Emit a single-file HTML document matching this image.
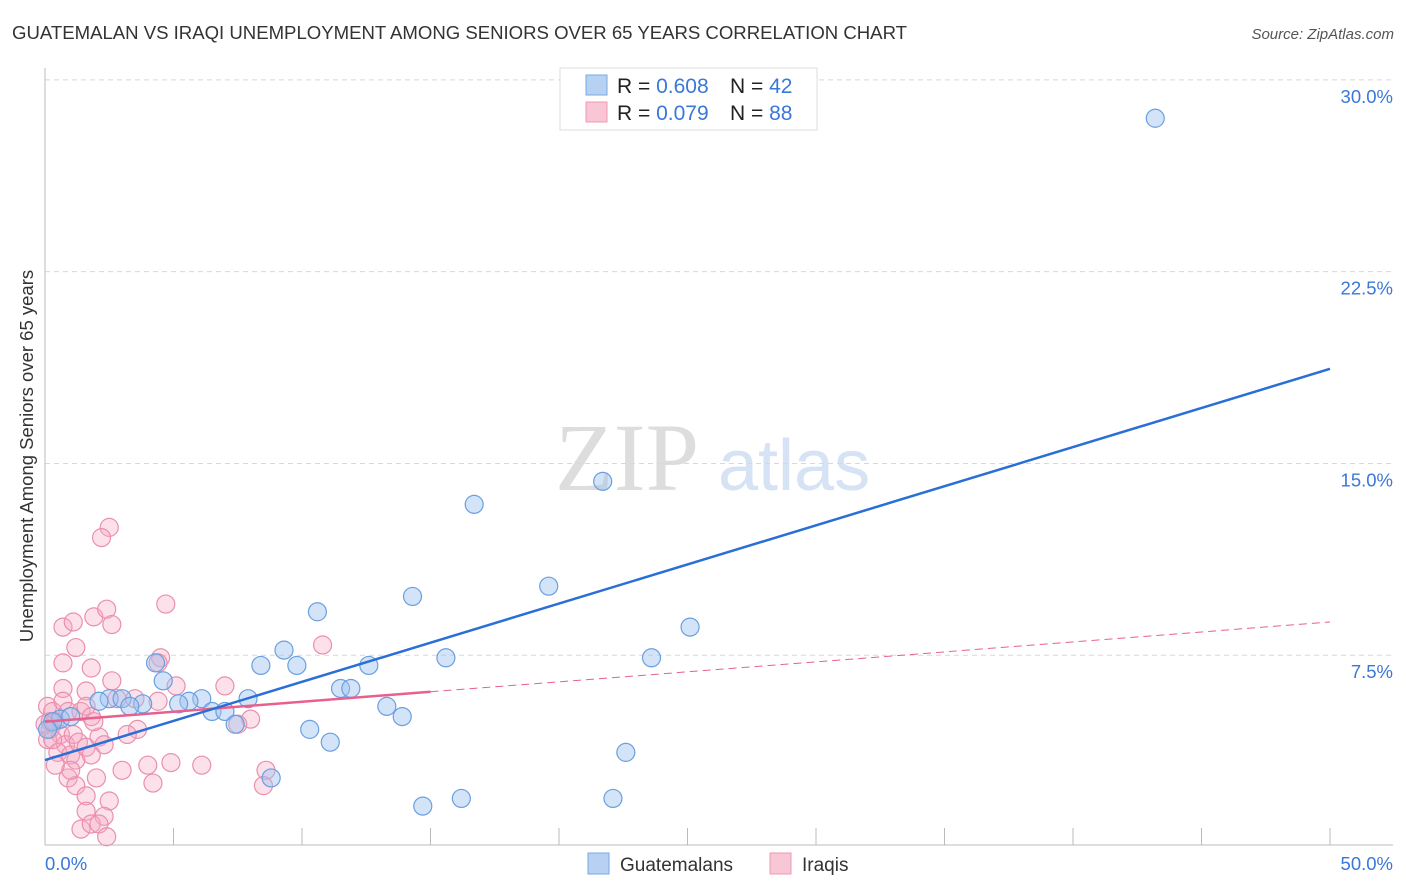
<!DOCTYPE html>
<html><head><meta charset="utf-8"><style>
body{margin:0;background:#fff;font-family:"Liberation Sans",sans-serif}
svg{display:block}
</style></head><body>
<svg id="chart" width="1406" height="892">
<text x="12" y="39" font-size="18.6" fill="#333" textLength="895">GUATEMALAN VS IRAQI UNEMPLOYMENT AMONG SENIORS OVER 65 YEARS CORRELATION CHART</text>
<text x="1394" y="39" font-size="15" fill="#555" font-style="italic" text-anchor="end">Source: ZipAtlas.com</text>
<text transform="translate(33,456) rotate(-90)" font-size="18.5" fill="#333" text-anchor="middle">Unemployment Among Seniors over 65 years</text>
<text x="555" y="490" font-size="96" fill="#ddd" font-family="Liberation Serif,serif">ZIP</text>
<text x="718" y="490" font-size="72" fill="#d5e3f5">atlas</text>
<g id="grid"></g><g id="marks"></g>
<g>
<rect x="560" y="68" width="257" height="62" fill="#fff" stroke="#ddd"/>
<rect x="586" y="75" width="21" height="20" fill="#b7d1f3" stroke="#7aa7e6"/>
<rect x="586" y="102" width="21" height="20" fill="#f8c6d5" stroke="#ee9ab5"/>
<text x="617" y="93" font-size="21" fill="#222">R = <tspan fill="#3a78d8">0.608</tspan></text>
<text x="730" y="93" font-size="21" fill="#222">N = <tspan fill="#3a78d8">42</tspan></text>
<text x="617" y="120" font-size="21" fill="#222">R = <tspan fill="#3a78d8">0.079</tspan></text>
<text x="730" y="120" font-size="21" fill="#222">N = <tspan fill="#3a78d8">88</tspan></text>
</g>
<g>
<rect x="588" y="853" width="21" height="21" fill="#b7d1f3" stroke="#7aa7e6"/>
<text x="620" y="871" font-size="19" fill="#333">Guatemalans</text>
<rect x="770" y="853" width="21" height="21" fill="#f8c6d5" stroke="#ee9ab5"/>
<text x="802" y="871" font-size="19" fill="#333">Iraqis</text>
</g>
</svg>
<script>
const yTicks=[7.5,15,22.5,30];
const yTickLabels=["7.5%","15.0%","22.5%","30.0%"];
const xTickLabels=["0.0%","50.0%"];
const blueX=[43.2,21.7,16.7,19.6,14.3,10.6,25.1,9.3,15.6,23.6,4.3,8.4,9.8,12.6,4.6,11.5,11.9,7.9,6.1,5.6,5.2,2.5,3.0,3.8,3.3,2.1,6.5,7.0,7.4,13.3,13.9,10.3,11.1,22.6,8.8,22.1,16.2,14.7,0.6,1.0,0.3,0.1];
const blueY=[28.5,14.3,13.4,10.2,9.8,9.2,8.6,7.7,7.4,7.4,7.2,7.1,7.1,7.1,6.5,6.2,6.2,5.8,5.8,5.7,5.6,5.8,5.8,5.6,5.5,5.7,5.3,5.3,4.8,5.5,5.1,4.6,4.1,3.7,2.7,1.9,1.9,1.6,5.0,5.1,4.9,4.6];
const pinkX=[2.5,2.2,4.7,0.7,1.1,1.9,2.4,2.6,1.2,4.5,0.7,1.8,7.0,2.6,0.7,1.6,5.1,4.4,10.8,3.5,2.8,4.4,8.0,7.5,2.1,2.3,3.6,3.2,3.0,4.0,4.2,4.9,6.1,8.6,8.5,2.0,0.9,1.2,1.6,2.5,1.6,2.3,1.4,1.8,2.1,2.4,0.1,0.3,0.4,0.2,0.6,0.1,0.8,0.5,1.0,1.2,0.3,0.7,0.9,1.4,1.6,1.8,1.9,1.1,1.3,1.6,1.8,1.0,0.4,0.2,0.0];
const pinkY=[12.5,12.1,9.5,8.6,8.8,9.0,9.3,8.7,7.8,7.4,7.2,7.0,6.3,6.5,6.2,6.1,6.3,7.2,7.9,5.8,5.8,5.7,5.0,4.8,4.3,4.0,4.6,4.4,3.0,3.2,2.5,3.3,3.2,3.0,2.4,2.7,2.7,2.4,2.0,1.8,1.4,1.2,0.7,0.9,0.9,0.4,5.5,5.3,4.9,4.6,4.4,4.2,4.0,3.7,3.6,3.4,4.2,5.7,5.3,5.3,5.5,5.1,4.9,4.4,4.1,3.9,3.6,3.0,3.2,4.9,4.8];
const blueTrend=[3.4,18.7];
const pinkTrend=[4.9,8.8];
const X0=45,X1=1330,Y0=847,YPER=25.57;
const xs=v=>X0+(X1-X0)*v/50, ys=v=>Y0-v*YPER;
const NS="http://www.w3.org/2000/svg";
function mk(t,a,p){const e=document.createElementNS(NS,t);for(const k in a)e.setAttribute(k,a[k]);p.appendChild(e);return e;}
const grid=document.getElementById('grid'),marks=document.getElementById('marks');
yTicks.forEach((t,i)=>{
 const g=mk('line',{x1:45,x2:1393,y1:ys(t),y2:ys(t),stroke:'#d8d8d8','stroke-dasharray':'5,4'},grid);
 
 
 const l=mk('text',{x:1393,y:ys(t)+23,'font-size':18.5,fill:'#3a78d8','text-anchor':'end'},grid);l.textContent=yTickLabels[i];
 
 
});
const ax=mk('line',{x1:45,x2:45,y1:68,y2:845,stroke:'#bbb'},grid);


const bx=mk('line',{x1:45,x2:1393,y1:845,y2:845,stroke:'#bbb'},grid);


for(let i=0;i<=10;i++){const t=mk('line',{x1:xs(i*5),x2:xs(i*5),y1:828,y2:845,stroke:'#bbb'},grid);
 
 }
const xl0=mk('text',{x:45,y:870,'font-size':18.5,fill:'#3a78d8'},grid);xl0.textContent=xTickLabels[0];


const xl1=mk('text',{x:1393,y:870,'font-size':18.5,fill:'#3a78d8','text-anchor':'end'},grid);xl1.textContent=xTickLabels[1];


pinkX.forEach((x,i)=>{const c=mk('circle',{cx:xs(x),cy:ys(pinkY[i]),r:9,fill:'rgba(245,170,195,0.35)',stroke:'#ea8fae','stroke-width':1.2},marks);
 
 });
blueX.forEach((x,i)=>{const c=mk('circle',{cx:xs(x),cy:ys(blueY[i]),r:9,fill:'rgba(160,196,240,0.45)',stroke:'#6a9fe0','stroke-width':1.2},marks);
 
 });
const pv=x=>pinkTrend[0]+(pinkTrend[1]-pinkTrend[0])*x/50;
const pl=mk('line',{x1:xs(0),y1:ys(pv(0)),x2:xs(15),y2:ys(pv(15)),stroke:'#e8608e','stroke-width':2.5},marks);


const pd=mk('line',{x1:xs(15),y1:ys(pv(15)),x2:xs(50),y2:ys(pv(50)),stroke:'#e8608e','stroke-width':1,'stroke-dasharray':'8,5'},marks);


const bl=mk('line',{x1:xs(0),y1:ys(blueTrend[0]),x2:xs(50),y2:ys(blueTrend[1]),stroke:'#2a6fd6','stroke-width':2.5},marks);


</script>
</body></html>
